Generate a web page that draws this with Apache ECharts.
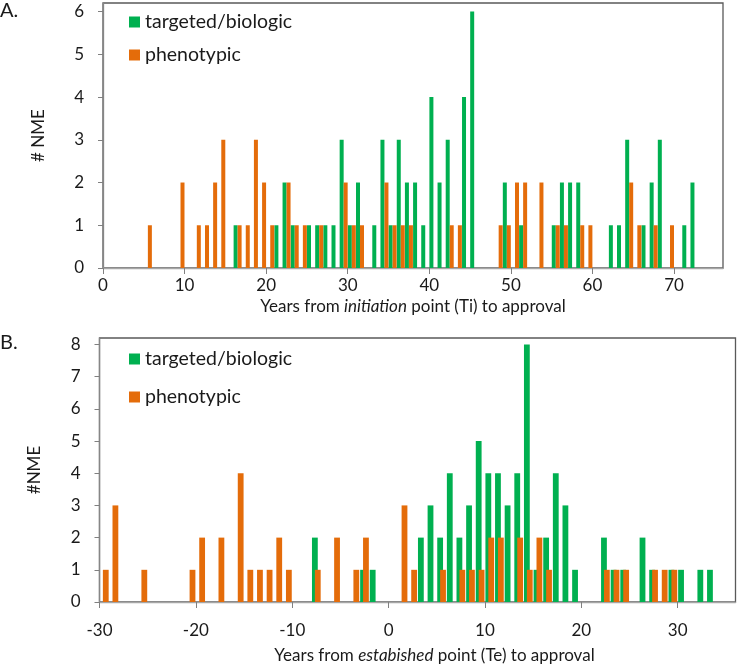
<!DOCTYPE html>
<html>
<head>
<meta charset="utf-8">
<script src="https://cdn.jsdelivr.net/npm/echarts@6/dist/echarts.min.js"></script>
<style>
html,body{margin:0;padding:0;background:#fff;}
#chart{width:740px;height:670px;}
</style>
</head>
<body>
<div id="chart"></div>
<script>
// Panel A: years from initiation point (Ti) to approval, [bin start year, count]
const aTargeted = [[16,1],[21,1],[22,2],[23,1],[25,1],[26,1],[27,1],[28,1],[29,3],[30,1],[31,2],[33,1],[34,3],[35,1],[36,3],[37,2],[38,2],[39,1],[40,4],[41,2],[42,3],[44,4],[45,6],[49,2],[51,1],[55,1],[56,2],[57,2],[58,2],[62,1],[63,1],[64,3],[66,1],[67,2],[68,3],[71,1],[72,2]];
const aPhenotypic = [[5,1],[9,2],[11,1],[12,1],[13,2],[14,3],[16,1],[17,1],[18,3],[19,2],[20,1],[22,2],[23,1],[24,1],[26,1],[29,2],[30,1],[31,1],[34,2],[35,1],[36,1],[37,1],[42,1],[43,1],[48,1],[49,1],[50,2],[51,2],[53,2],[55,1],[56,1],[58,1],[59,1],[64,2],[65,1],[67,1],[69,1]];
// Panel B: years from established point (Te) to approval
const bTargeted = [[-8,2],[-3,1],[-2,1],[3,2],[4,3],[5,2],[6,4],[7,2],[8,3],[9,5],[10,4],[11,4],[12,3],[13,4],[14,8],[15,1],[16,2],[17,4],[18,3],[19,1],[22,2],[23,1],[24,1],[26,2],[27,1],[29,1],[30,1],[32,1],[33,1]];
const bPhenotypic = [[-30,1],[-29,3],[-26,1],[-21,1],[-20,2],[-18,2],[-16,4],[-15,1],[-14,1],[-13,1],[-12,2],[-11,1],[-8,1],[-6,2],[-4,1],[-3,2],[1,3],[2,1],[5,1],[7,1],[8,1],[9,1],[10,2],[11,2],[13,2],[14,1],[15,2],[16,1],[22,1],[23,1],[24,1],[27,1],[28,1],[29,1]];

const aXTicks = [0,10,20,30,40,50,60,70];
const bXTicks = [-30,-20,-10,0,10,20,30];
const aYTicks = [0,1,2,3,4,5,6];
const bYTicks = [0,1,2,3,4,5,6,7,8];
const seriesNames = ['targeted/biologic','phenotypic'];

const GREEN = '#00B050', ORANGE = '#E46C0A';
const FONT = 'Lato';
const TXT = '#1a1a1a';

// histogram bin [k, k+1) drawn at its centre
const toBins = arr => arr.map(d => [d[0] + 0.5, d[1]]);

function xAxisCfg(idx, min, max, ticks, nameParts, margin, nameGap, shift){
  return {
    type:'value', gridIndex:idx, min:min, max:max, interval:10,
    name:'{n|' + nameParts[0] + '}{i|' + nameParts[1] + '}{n|' + nameParts[2] + '}',
    nameLocation:'middle', nameGap:nameGap,
    nameTextStyle:{padding:[0,0,0,shift],rich:{
      n:{fontFamily:FONT,fontSize:17,color:TXT},
      i:{fontFamily:FONT,fontSize:17,fontStyle:'italic',color:TXT}}},
    axisLine:{show:true,onZero:false,lineStyle:{color:'#A6A6A6',width:1.3}},
    axisTick:{show:true,length:6,inside:false,customValues:ticks,lineStyle:{color:'#808080'}},
    axisLabel:{customValues:ticks,margin:margin,fontFamily:FONT,fontSize:17,color:TXT},
    splitLine:{show:false}
  };
}
function yAxisCfg(idx, max, ticks, name){
  return {
    type:'value', gridIndex:idx, min:0, max:max, interval:1,
    name:name, nameLocation:'middle', nameGap:56,
    nameTextStyle:{fontFamily:FONT,fontSize:17,color:TXT},
    axisLine:{show:true,onZero:false,lineStyle:{color:'#868686',width:1.3}},
    axisTick:{show:true,length:5,customValues:ticks,lineStyle:{color:'#808080'}},
    axisLabel:{customValues:ticks,margin:19,fontFamily:FONT,fontSize:17,color:TXT},
    splitLine:{show:false}
  };
}
function legendCfg(top, gap){
  return {
    data:seriesNames, orient:'vertical', left:129, top:top, padding:0,
    itemWidth:11, itemHeight:11, itemGap:gap, icon:'rect', selectedMode:false,
    textStyle:{fontFamily:FONT,fontSize:19.5,color:TXT,lineHeight:20}
  };
}

const option = {
  animation:false,
  backgroundColor:'#fff',
  title:[
    {text:'A.',left:0,top:1,padding:0,textStyle:{fontFamily:FONT,fontSize:20,fontWeight:'normal',color:TXT}},
    {text:'B.',left:0,top:333,padding:0,textStyle:{fontFamily:FONT,fontSize:20,fontWeight:'normal',color:TXT}}
  ],
  legend:[legendCfg(12,13), legendCfg(349,18)],
  grid:[
    {left:103,top:3,width:620,height:265,show:true,borderColor:'#595959',borderWidth:1.3},
    {left:99.5,top:338,width:636,height:264,show:true,borderColor:'#595959',borderWidth:1.3}
  ],
  xAxis:[
    xAxisCfg(0,0,76,aXTicks,['Years from ','initiation',' point (Ti) to approval'],9,30,0),
    xAxisCfg(1,-30,36,bXTicks,['Years from ','estabished',' point (Te) to approval'],20,45,34)
  ],
  yAxis:[
    yAxisCfg(0,6.2,aYTicks,'# NME'),
    yAxisCfg(1,8.2,bYTicks,'#NME')
  ],
  series:[
    {name:seriesNames[0],type:'bar',xAxisIndex:0,yAxisIndex:0,data:toBins(aTargeted),barWidth:4,barGap:'0%',itemStyle:{color:GREEN}},
    {name:seriesNames[1],type:'bar',xAxisIndex:0,yAxisIndex:0,data:toBins(aPhenotypic),barWidth:4,barGap:'0%',itemStyle:{color:ORANGE}},
    {name:seriesNames[0],type:'bar',xAxisIndex:1,yAxisIndex:1,data:toBins(bTargeted),barWidth:5.8,barGap:'-50%',itemStyle:{color:GREEN}},
    {name:seriesNames[1],type:'bar',xAxisIndex:1,yAxisIndex:1,data:toBins(bPhenotypic),barWidth:5.8,barGap:'-50%',itemStyle:{color:ORANGE}}
  ]
};
const chart = echarts.init(document.getElementById('chart'), null, {renderer:'canvas'});
chart.setOption(option);
</script>
</body>
</html>
